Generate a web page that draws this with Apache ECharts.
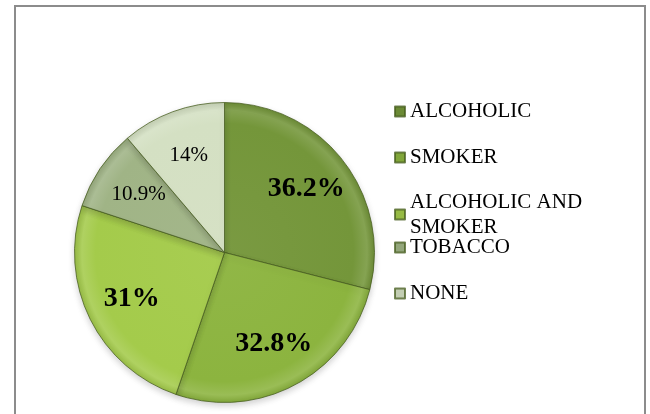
<!DOCTYPE html>
<html>
<head>
<meta charset="utf-8">
<script src="https://cdn.jsdelivr.net/npm/echarts@6/dist/echarts.min.js"></script>
<style>
  html, body { margin: 0; padding: 0; background: #ffffff; }
  #chart { width: 650px; height: 414px; }
</style>
</head>
<body>
<div id="chart"></div>
<script>
// Habit groups and their shares (%)
const categories = ['ALCOHOLIC', 'SMOKER', 'ALCOHOLIC AND SMOKER', 'TOBACCO', 'NONE'];
const shares = [36.2, 32.8, 31, 10.9, 14];

// Slice colours and label weights, in category order
const sliceColors = ['#74963a', '#8cb43f', '#a4cb4b', '#a0b486', '#d4e0c3'];
const boldLabel = [true, true, true, false, false];

const CX = 224.5, CY = 252.5, R = 150;

function shade(hex, f) {
  const n = parseInt(hex.slice(1), 16);
  let r = (n >> 16) & 255, g = (n >> 8) & 255, b = n & 255;
  const mix = (c) => f >= 0 ? Math.round(c + (255 - c) * f) : Math.round(c * (1 + f));
  return 'rgb(' + mix(r) + ',' + mix(g) + ',' + mix(b) + ')';
}

function sliceFill(hex) {
  return {
    type: 'radial', x: CX, y: CY, r: R, global: true,
    colorStops: [
      { offset: 0, color: shade(hex, 0.04) },
      { offset: 0.86, color: hex },
      { offset: 0.95, color: shade(hex, 0.12) },
      { offset: 1, color: shade(hex, -0.08) }
    ]
  };
}

const pieData = categories.map((name, i) => ({
  name: name,
  value: shares[i],
  itemStyle: { color: sliceFill(sliceColors[i]) }
}));

const labelData = categories.map((name, i) => ({
  name: name,
  value: shares[i],
  label: {
    fontWeight: boldLabel[i] ? 'bold' : 'normal',
    fontSize: boldLabel[i] ? 28 : 21
  }
}));

// One legend block per entry so each line sits where it should
const legendTops = [101, 147, 189.5, 237, 283];
const legends = categories.map((name, i) => ({
  data: [name],
  left: 394,
  top: legendTops[i],
  padding: 0,
  orient: 'vertical',
  icon: 'rect',
  itemWidth: 10,
  itemHeight: 10,
  itemGap: 0,
  selectedMode: false,
  formatter: (n) => n === 'ALCOHOLIC AND SMOKER' ? 'ALCOHOLIC AND\nSMOKER' : n,
  textStyle: {
    fontFamily: 'Liberation Serif, Times New Roman, serif',
    fontSize: 21,
    lineHeight: i === 2 ? 25 : 20,
    color: '#000000'
  }
}));

const chart = echarts.init(document.getElementById('chart'), null, { renderer: 'canvas' });
chart.setOption({
  backgroundColor: '#ffffff',
  animation: false,
  legend: legends,
  graphic: [{
    type: 'rect',
    shape: { x: 15, y: 6, width: 630, height: 440 },
    style: { fill: 'none', stroke: '#8c8c8c', lineWidth: 2 },
    silent: true
  }],
  series: [
    {
      type: 'pie',
      center: [CX, CY],
      radius: [0, R],
      startAngle: 90,
      clockwise: true,
      data: pieData,
      label: { show: false },
      labelLine: { show: false },
      itemStyle: {
        borderColor: 'rgba(70,92,30,0.75)',
        borderWidth: 1,
        shadowBlur: 6,
        shadowColor: 'rgba(0,0,0,0.18)',
        shadowOffsetY: 3
      },
      emphasis: { disabled: true }
    },
    {
      // transparent ring carrying the value labels at two-thirds radius
      type: 'pie',
      center: [CX, CY],
      radius: [R * 0.34, R],
      startAngle: 90,
      clockwise: true,
      silent: true,
      legendHoverLink: false,
      data: labelData,
      itemStyle: { color: 'rgba(0,0,0,0)', borderWidth: 0 },
      label: {
        show: true,
        position: 'inside',
        formatter: '{c}%',
        color: '#000000',
        fontFamily: 'Liberation Serif, Times New Roman, serif'
      },
      labelLine: { show: false },
      emphasis: { disabled: true }
    }
  ]
});
</script>
</body>
</html>
